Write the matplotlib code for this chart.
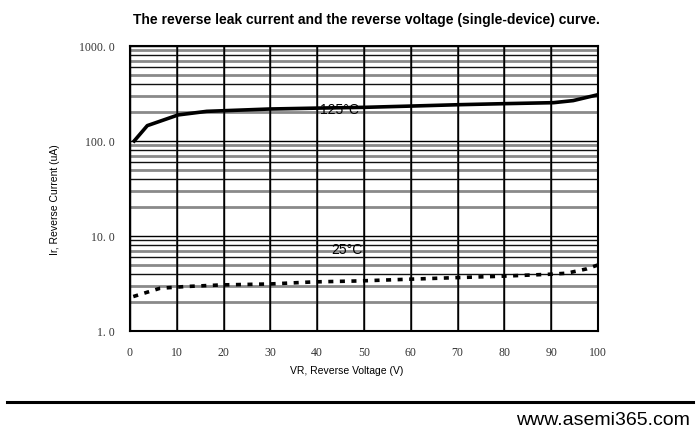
import numpy as np
import matplotlib.pyplot as plt
from matplotlib.lines import Line2D
from matplotlib.ticker import FixedLocator, LogLocator, NullFormatter

# reverse voltage (V) and reverse current (uA)
vr_125 = [0.9, 3.7, 10.3, 16.4, 29.9, 40.6, 50.2, 60.0, 70.5, 80.0, 90.5, 94.7, 100.0]
ir_125 = [100, 145, 188, 205, 217, 222, 226, 233, 241, 247, 253, 266, 307]

vr_25 = [0.7, 6.4, 11.75, 19.6, 29.9, 39.2, 49.1, 59.5, 69.8, 79.1, 89.7, 93.3, 97.6, 100.0]
ir_25 = [2.3, 2.81, 2.93, 3.05, 3.12, 3.28, 3.36, 3.5, 3.64, 3.76, 3.95, 4.05, 4.5, 4.95]

x_ticks = [0, 10, 20, 30, 40, 50, 60, 70, 80, 90, 100]
y_ticks = [1, 10, 100, 1000]
y_tick_labels = ['1. 0', '10. 0', '100. 0', '1000. 0']

title = 'The reverse leak current and the reverse voltage (single-device) curve.'

fig = plt.figure(figsize=(7, 4.35), dpi=100)
ax = fig.add_axes([0.1857, 0.237, 0.6686, 0.655])

ax.set_yscale('log')
ax.set_xlim(0, 100)
ax.set_ylim(1, 1000)

# grid: major black, minor a mix of gray / black like the scanned sheet
ax.grid(True, which='major', color='black', linewidth=1.0)
ax.yaxis.set_minor_locator(LogLocator(base=10, subs=np.arange(2, 10)))
ax.yaxis.set_minor_formatter(NullFormatter())
gray_subs = {1: [2, 3, 5, 7], 10: [2, 3, 5, 7, 9], 100: [2, 3, 5, 7, 9]}
for dec in [1, 10, 100]:
    for s in range(2, 10):
        if s in gray_subs[dec]:
            ax.axhline(dec * s, color='#8a8a8a', linewidth=2.0, zorder=0.5)
        else:
            ax.axhline(dec * s, color='#111111', linewidth=1.0, zorder=0.5)
for xv in x_ticks[1:-1]:
    ax.axvline(xv, color='#222222', linewidth=1.2, zorder=0.6)

ax.plot(vr_125, ir_125, color='black', linewidth=2.6, zorder=3)
ax.plot(vr_25, ir_25, color='black', linewidth=2.6, linestyle=(0, (1.4, 1.8)), zorder=3)

ax.text(40.5, 217, '125\u00b0C', fontsize=10, family='Liberation Sans', va='center', zorder=4)
ax.text(43.0, 7.2, '25\u00b0C', fontsize=10, family='Liberation Sans', va='center', zorder=4)

ax.xaxis.set_major_locator(FixedLocator(x_ticks))
ax.yaxis.set_major_locator(FixedLocator(y_ticks))
ax.set_yticklabels(y_tick_labels)
ax.tick_params(which='both', length=0, labelsize=8.5, colors='#333333')
ax.tick_params(axis='y', pad=11)
ax.tick_params(axis='x', pad=11)
for lab in ax.get_xticklabels() + ax.get_yticklabels():
    lab.set_family('Liberation Serif')

for sp in ax.spines.values():
    sp.set_linewidth(1.5)
    sp.set_color('black')

ax.set_xlabel('VR, Reverse Voltage (V)', fontsize=7.5, family='Liberation Sans', labelpad=5)
ax.set_ylabel('Ir, Reverse Current (uA)', fontsize=7.5, family='Liberation Sans', labelpad=14)
ax.xaxis.label.set_x(0.464)
ax.yaxis.label.set_y(0.463)

fig.text(0.523, 0.953, title, ha='center', va='center', fontsize=10,
         fontweight='bold', family='Liberation Sans')

fig.add_artist(Line2D([0.01, 0.99], [0.074, 0.074], color='black', linewidth=2.2))
fig.text(0.986, 0.034, 'www.asemi365.com', ha='right', va='center', fontsize=14,
         family='Liberation Sans')

fig.savefig('out.png', dpi=100)
